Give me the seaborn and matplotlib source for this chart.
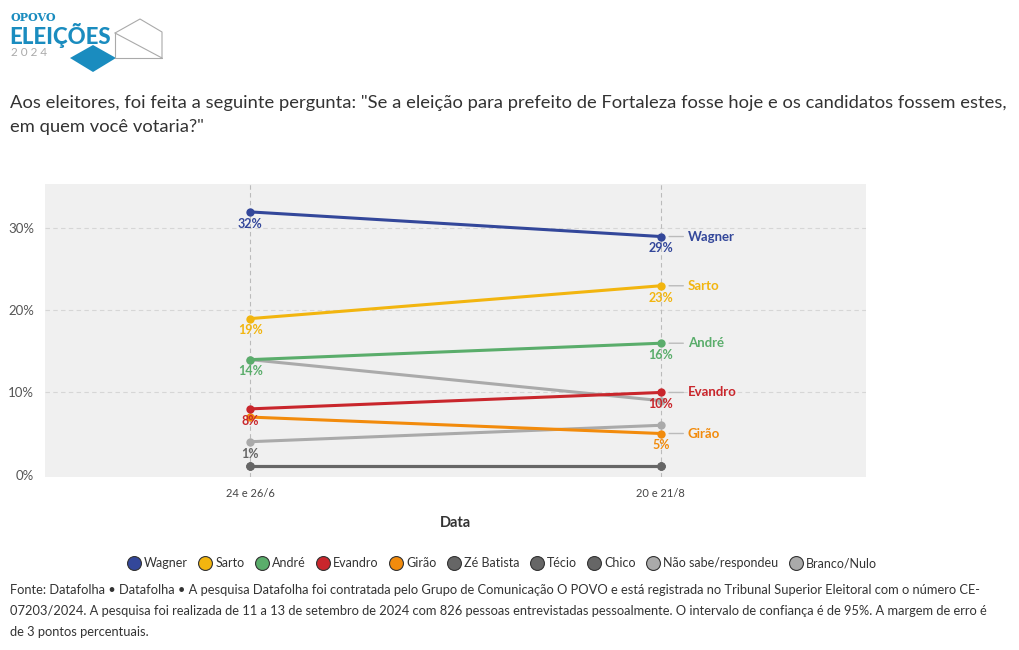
import pandas as pd
import matplotlib.pyplot as plt
import seaborn as sns
from matplotlib.patches import Polygon
from matplotlib.lines import Line2D

# poll rounds and results (%)
periods = ["24 e 26/6", "20 e 21/8"]
candidates = ["Wagner", "Sarto", "André", "Evandro", "Girão", "Zé Batista",
              "Técio", "Chico", "Não sabe/respondeu", "Branco/Nulo"]
wagner = [32, 29]
sarto = [19, 23]
andre = [14, 16]
evandro = [8, 10]
girao = [7, 5]
ze_batista = [1, 1]
tecio = [1, 1]
chico = [1, 1]
nao_sabe = [4, 6]
branco_nulo = [14, 9]

colors = {"Wagner": "#33479a", "Sarto": "#f2b50f", "André": "#5aad6b",
          "Evandro": "#c9262c", "Girão": "#f28b0c", "Zé Batista": "#666666",
          "Técio": "#666666", "Chico": "#666666",
          "Não sabe/respondeu": "#aaaaaa", "Branco/Nulo": "#aaaaaa"}

series = [wagner, sarto, andre, evandro, girao, ze_batista, tecio, chico,
          nao_sabe, branco_nulo]
rows = []
for name, vals in zip(candidates, series):
    for i, v in enumerate(vals):
        rows.append({"Data": i, "periodo": periods[i], "candidato": name, "valor": v})
df = pd.DataFrame(rows)

sns.set_style("white")
plt.rcParams['font.family'] = ['Lato', 'DejaVu Sans']

fig = plt.figure(figsize=(10.2, 6.5), dpi=100)
ax = fig.add_axes([45 / 1020, 1 - 477 / 650, (866 - 45) / 1020, (477 - 184) / 650])
ax.set_facecolor("#f0f0f0")

# draw back to front like the original
for name in candidates[::-1]:
    sub = df[df.candidato == name]
    sns.lineplot(data=sub, x="Data", y="valor", color=colors[name], ax=ax,
                 linewidth=2.2, marker="o", markersize=6, markeredgewidth=0,
                 legend=False, zorder=3)

ax.set_xlim(-0.5, 1.5)
ax.set_ylim(-0.3, 35.4)
ax.set_xticks([0, 1])
ax.set_xticklabels(periods, fontsize=8, color="#444444")
ax.set_yticks([0, 10, 20, 30])
ax.set_yticklabels(["0%", "10%", "20%", "30%"], fontsize=9.5, color="#555555")
ax.tick_params(axis="x", length=0, pad=8)
ax.tick_params(axis="y", length=0, pad=8)
for y in [10, 20, 30]:
    ax.axhline(y, color="#d6d6d6", lw=0.8, ls=(0, (4, 3)), zorder=1)
for x in [0, 1]:
    ax.axvline(x, color="#bbbbbb", lw=0.8, ls=(0, (4, 3)), zorder=1)
for s in ax.spines.values():
    s.set_visible(False)
ax.set_xlabel("Data", fontsize=10.5, fontweight="bold", color="#333333", labelpad=12)
ax.set_ylabel("")

# value labels below the points
def vlabel(x, y, name, dy=-8.5):
    ax.annotate(f"{y}%", (x, y), xytext=(0, dy), textcoords="offset points",
                ha="center", va="center", fontsize=9, fontweight="bold",
                color=colors[name], zorder=5)

for name, vals in [("Wagner", wagner), ("Sarto", sarto), ("André", andre),
                   ("Evandro", evandro)]:
    vlabel(0, vals[0], name)
    vlabel(1, vals[1], name)
vlabel(1, girao[1], "Girão")
vlabel(0, ze_batista[0], "Zé Batista", dy=9)

# name labels on the right
for name, vals in [("Wagner", wagner), ("Sarto", sarto), ("André", andre),
                   ("Evandro", evandro), ("Girão", girao)]:
    ax.annotate("", xy=(1, vals[1]), xytext=(1.055, vals[1]),
                arrowprops=dict(arrowstyle="-", color="#bbbbbb", lw=1,
                                shrinkA=0, shrinkB=6))
    ax.annotate(name, (1, vals[1]), xytext=(19.5, 0), textcoords="offset points",
                ha="left", va="center", fontsize=9.5, fontweight="bold",
                color=colors[name], zorder=5)

# legend
handles = [Line2D([], [], marker="o", ls="", markersize=10,
                  markerfacecolor=colors[c], markeredgecolor="#333333",
                  markeredgewidth=0.8) for c in candidates]
fig.legend(handles, candidates, loc="center", bbox_to_anchor=(0.492, 1 - 563 / 650),
           ncol=len(candidates), frameon=False, fontsize=9, handletextpad=0.25,
           columnspacing=0.85, handlelength=1.1, labelcolor="#333333")

# title
fig.text(10 / 1020, 1 - 103 / 650,
         "Aos eleitores, foi feita a seguinte pergunta: \"Se a eleição para prefeito de Fortaleza fosse hoje e os candidatos fossem estes,",
         fontsize=13.2, color="#333333", va="center", ha="left")
fig.text(10 / 1020, 1 - 127 / 650, "em quem você votaria?\"",
         fontsize=13.2, color="#333333", va="center", ha="left")

# footer
footer = ["Fonte: Datafolha • Datafolha • A pesquisa Datafolha foi contratada pelo Grupo de Comunicação O POVO e está registrada no Tribunal Superior Eleitoral com o número CE-",
          "07203/2024. A pesquisa foi realizada de 11 a 13 de setembro de 2024 com 826 pessoas entrevistadas pessoalmente. O intervalo de confiança é de 95%. A margem de erro é",
          "de 3 pontos percentuais."]
for i, line in enumerate(footer):
    fig.text(10 / 1020, 1 - (590 + 21 * i) / 650, line, fontsize=9.3,
             color="#333333", va="center", ha="left")

# logo
lg = fig.add_axes([0, 1 - 80 / 650, 200 / 1020, 80 / 650])
lg.set_xlim(0, 200)
lg.set_ylim(80, 0)
lg.axis("off")
blue = "#1a8cbf"
lg.add_patch(Polygon([(70, 58), (93, 45), (116, 58), (93, 72)], closed=True,
                     color=blue, lw=0))
for xs, ys in [([115, 140, 162, 162], [33, 19, 32, 58]),
               ([115, 162], [33, 58]),
               ([115, 115, 140], [33, 58, 58]),
               ([140, 162], [58, 58])]:
    lg.plot(xs, ys, color="#aaaaaa", lw=0.8)
lg.text(11, 17.5, "OPOVO", fontsize=8, fontweight="heavy", color=blue, va="center",
        family="DejaVu Serif")
lg.text(9, 35, "ELEIÇÕES", fontsize=16, fontweight="black", color=blue, va="center")
lg.text(11, 53, "2 0 2 4", fontsize=8.5, color="#aaaaaa", va="center")

fig.savefig("out.png", dpi=100)
